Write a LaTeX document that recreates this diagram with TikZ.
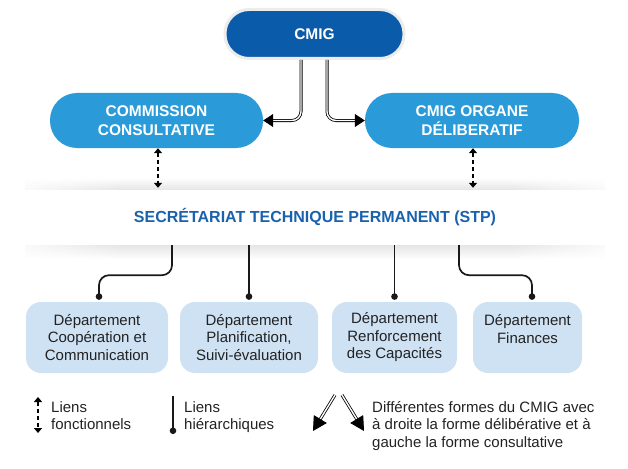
\documentclass[tikz,border=0pt]{standalone}
\usepackage{fontspec}
\setmainfont{Liberation Sans}
\usetikzlibrary{arrows.meta, fadings}
\definecolor{cmigBlue}{HTML}{0A5BA9}
\definecolor{boxBlue}{HTML}{2A9BD8}
\definecolor{deptBlue}{HTML}{CFE2F4}
\definecolor{stpBlue}{HTML}{1A62AD}
\definecolor{deptText}{HTML}{222222}

\begin{document}
\begin{tikzpicture}[x=1pt, y=-1pt,
	cmig/.style={rounded corners=24pt, fill=cmigBlue, draw=gray!15, line width=3pt, text=white, font=\fontsize{15.5}{19}\selectfont\bfseries, minimum width=179pt, minimum height=49pt, inner sep=0pt},
	forme/.style={rounded corners=27pt, fill=boxBlue, text=white, align=center, font=\fontsize{15.5}{19}\selectfont\bfseries, minimum height=55pt, inner sep=0pt},
	dept/.style={rounded corners=15pt, fill=deptBlue, text=deptText, align=center, font=\fontsize{15}{17.5}\selectfont, minimum height=71pt, inner sep=0pt},
	fonc/.style={line width=1.5pt, dash pattern=on 4pt off 3pt, {Triangle[length=5pt,width=8pt]}-{Triangle[length=5pt,width=8pt]}},
	hier/.style={line width=1.7pt, draw=black!90, -{Circle[length=6.5pt]}, rounded corners=10pt},
	forme arrow/.style={double, double distance=1.4pt, line width=0.8pt, -{Triangle[length=10pt,width=13pt]}, rounded corners=9pt},
	legende/.style={align=left, anchor=north west, inner sep=0pt, font=\fontsize{15}{17.5}\selectfont, text=deptText}
]
	\useasboundingbox (0,0) rectangle (628,468);
	% organes du CMIG
	\node[cmig] (cmig) at (314.5,34) {CMIG};
	\node[forme, minimum width=213pt] (consult) at (156.5,120.5) {COMMISSION\\CONSULTATIVE};
	\node[forme, minimum width=214pt] (delib) at (472,120.5) {CMIG ORGANE\\DÉLIBERATIF};
	\node[fill=white, minimum width=580pt, minimum height=55pt, font=\fontsize{16}{19}\selectfont\bfseries, text=stpBlue] (stp) at (315,217.5) {SECRÉTARIAT TECHNIQUE PERMANENT (STP)};
	% ombre du STP
	\fill[black, opacity=0.10, path fading=north] ([yshift=12pt]stp.north west) rectangle (stp.north east);
	\fill[black, opacity=0.10, path fading=south] (stp.south west) rectangle ([yshift=-14pt]stp.south east);
	\fill[white, path fading=east] (0,175) rectangle (120,262);
	\fill[white, path fading=west] (510,175) rectangle (628,262);
	% departements
	\node[dept, minimum width=142pt] (d1) at (97,337.5) {Département\\Coopération et\\Communication};
	\node[dept, minimum width=138pt] (d2) at (249,337.5) {Département\\Planification,\\Suivi-évaluation};
	\node[dept, minimum width=125pt] (d3) at (394.5,337.5) {Département\\Renforcement\\des Capacités};
	\node[dept, minimum width=109pt] (d4) at (527.5,337.5) {Département\\Finances\\\mbox{}};
	% liens
	\draw[forme arrow] ([xshift=-13.5pt]cmig.south) |- (consult.east);
	\draw[forme arrow] ([xshift=12.5pt]cmig.south) |- (delib.west);
	\draw[fonc] ([xshift=1.5pt]consult.south) -- ([xshift=1.5pt, yshift=2pt]consult.south |- stp.north);
	\draw[fonc] ([xshift=1pt]delib.south) -- ([xshift=1pt, yshift=2pt]delib.south |- stp.north);
	\draw[hier] ([xshift=-143pt]stp.south) -- ++(0,30) -| ([xshift=2pt, yshift=2pt]d1.north);
	\foreach \d in {d2, d3}
	{\draw[hier] (stp.south -| \d.north) -- ([yshift=2pt]\d.north);}
	\draw[hier] ([xshift=144pt]stp.south) -- ++(0,30) -| ([xshift=4.5pt, yshift=2pt]d4.north);
	% legende
	\coordinate (fa) at (38,397);
	\coordinate (fb) at (38,433);
	\draw[fonc] (fa) -- (fb);
	\node[legende] (lfonc) at (51,401) {Liens\\fonctionnels};
	\coordinate (ha) at (173,396);
	\coordinate (hb) at (173,434);
	\draw[hier] (ha) -- (hb);
	\node[legende] (lhier) at (184,401) {Liens\\hiérarchiques};
	\coordinate (ga) at (335,395);
	\coordinate (gb) at (313,431);
	\coordinate (da) at (342,395);
	\coordinate (db) at (364,431);
	\draw[forme arrow, -{Triangle[length=14pt,width=15pt]}] (ga) -- (gb);
	\draw[forme arrow, -{Triangle[length=14pt,width=15pt]}] (da) -- (db);
	\node[legende] (lformes) at (372,401) {Différentes formes du CMIG avec\\à droite la forme délibérative et à\\gauche la forme consultative};
\end{tikzpicture}
\end{document}
